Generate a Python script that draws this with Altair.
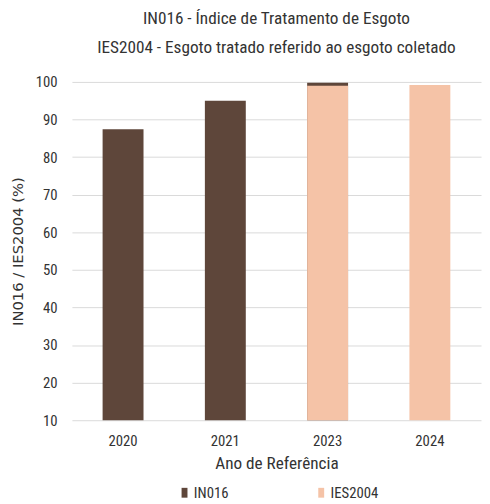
import altair as alt
import pandas as pd

years = ["2020", "2021", "2023", "2024"]
in016 = [87.4, 95.0, 99.8, None]
ies2004 = [None, None, 99.0, 99.2]
series = ["IN016", "IES2004"]
colors = ["#5E463A", "#F5C3A7"]
y_ticks = [10, 20, 30, 40, 50, 60, 70, 80, 90, 100]

rows = []
for y, v in zip(years, in016):
    if v is not None:
        rows.append({"ano": y, "serie": "IN016", "valor": v})
for y, v in zip(years, ies2004):
    if v is not None:
        rows.append({"ano": y, "serie": "IES2004", "valor": v})
df = pd.DataFrame(rows)

FONT = "'Roboto Condensed', 'DejaVu Sans Condensed', Roboto, sans-serif"
TXT = "#333333"

chart = alt.Chart(df).mark_bar().encode(
    x=alt.X("ano:N", sort=years,
            scale=alt.Scale(paddingInner=0.6, paddingOuter=0.3),
            axis=alt.Axis(title="Ano de Referência", labelAngle=0, ticks=False, domain=False,
                          labelPadding=14, titlePadding=6, labelFontSize=15, titleFontSize=17.5,
                          labelColor=TXT, titleColor=TXT, labelFont=FONT, titleFont=FONT,
                          titleFontWeight="normal")),
    y=alt.Y("valor:Q", scale=alt.Scale(domain=[10, 100], zero=False, nice=False),
            axis=alt.Axis(title="IN016 / IES2004 (%)", values=y_ticks, ticks=False, domain=False,
                          labelPadding=15, gridColor="#D9D9D9", gridWidth=1,
                          labelFontSize=15, titleFontSize=15, labelColor=TXT, titleColor=TXT,
                          labelFont=FONT, titleFont="DejaVu Sans", titleFontWeight="normal",
                          titleX=-55, titleY=172, titleAlign="center", titleBaseline="middle")),
    y2=alt.datum(10),
    color=alt.Color("serie:N", scale=alt.Scale(domain=series, range=colors),
                    legend=alt.Legend(title=None, orient="none", direction="horizontal",
                                      legendX=107, legendY=410, columnPadding=86,
                                      symbolType="M-0.6,-1H0.6V1H-0.6Z", symbolSize=100,
                                      symbolStrokeWidth=0, labelFontSize=15, labelFont=FONT,
                                      labelColor=TXT, labelOffset=2)),
    order=alt.Order("serie:N", sort="descending"),
).properties(
    width=416, height=344,
    title=alt.TitleParams(
        text=["IN016 - Índice de Tratamento de Esgoto",
              "IES2004 - Esgoto tratado referido ao esgoto coletado"],
        anchor="middle", fontSize=17.5, font=FONT, color=TXT, fontWeight="normal",
        lineHeight=29, offset=19),
    autosize=alt.AutoSizeParams(type="none"),
    padding={"left": 65, "top": 71, "right": 1, "bottom": 81},
).configure_view(stroke=None)

chart.save("out.html", embed_options={"renderer": "svg", "actions": False})
